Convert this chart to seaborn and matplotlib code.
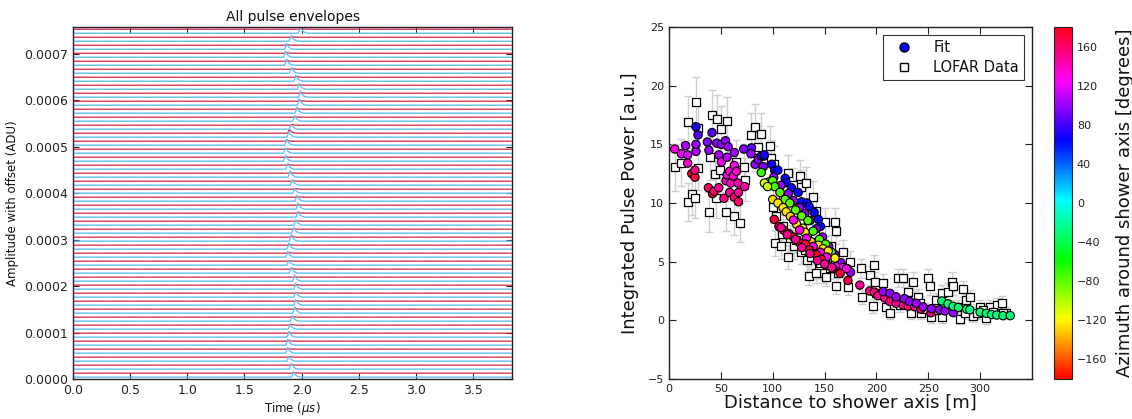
import numpy as np
import pandas as pd
import matplotlib
matplotlib.use("Agg")
import matplotlib.pyplot as plt
import seaborn as sns
from matplotlib.lines import Line2D

# ---------------- left panel: pulse envelopes ----------------
# pulse arrival time of each station (bottom -> top), microseconds
pulse_time = [1.93, 1.91, 1.89, 1.88, 1.88, 1.89, 1.90, 1.92, 1.94, 1.95, 1.95,
              1.95, 1.94, 1.91, 1.89, 1.88, 1.89, 1.91, 1.93, 1.95, 1.97, 1.97,
              1.96, 1.94, 1.92, 1.90, 1.88, 1.86, 1.86, 1.87, 1.89, 1.91, 1.94,
              1.96, 1.98, 1.99, 1.98, 1.95, 1.91, 1.87, 1.86, 1.87, 1.91, 1.99]
# pulse heights (1e-6 ADU)
blue_height = [11, 12, 10, 12, 13, 12, 10, 12, 13, 12, 11, 12, 13, 12, 10, 12,
               13, 14, 13, 12, 12, 13, 12, 10, 12, 13, 12, 13, 12, 13, 12, 10,
               12, 13, 14, 13, 12, 13, 12, 13, 13, 12, 12, 14]
red_height = [1.5, 1, 1.5, 1, 1.5, 1, 2, 1, 1.5, 1, 1, 1.5, 1, 2, 1, 1.5, 1, 1.5,
              1, 1, 1.5, 1, 1, 1.5, 1, 1, 1.5, 1, 1, 1.5, 8, 1.5, 1, 1, 1.5, 1, 1,
              1.5, 1, 1, 1.5, 1, 1, 1.5]
pulse_shape = [0.15, 0.45, 0.85, 1.0, 0.8, 0.6, 0.45, 0.35, 0.27, 0.2, 0.15,
               0.11, 0.08, 0.05, 0.03]
wiggle = [0.3, -0.5, 0.8, -0.2, 0.6, -0.9, 0.1, 0.4, -0.6, 0.9, -0.3, 0.2,
          -0.8, 0.5, 0.0, -0.4, 0.7, -0.7, 0.3, 0.6, -0.1, -0.9, 0.4, 0.2,
          -0.5, 0.8, -0.2, -0.6, 0.9, -0.4, 0.1, 0.5, -0.8, 0.3, 0.6, -0.3,
          -0.7, 0.2, 0.8, -0.5, 0.0, 0.4, -0.9, 0.7, -0.1, -0.4, 0.5, -0.6]
station_step = 0.0000172
first_offset = 0.000004

# ---------------- right panel: LDF ----------------
fit_dist = [5.5, 12, 16, 18, 18, 22, 25, 25, 26, 26, 26, 28,
            37, 38, 38.5, 41.5, 42, 43.5, 46, 48, 48, 50.5, 50.5, 53, 54.5, 55,
            56, 56, 57, 58.5, 58.5, 59.5, 62, 63, 63, 63, 65, 66.5, 67, 67, 72,
            73, 79.5, 79, 83, 86, 89, 91.5, 92, 91,
            99, 102, 105, 112, 113, 118, 124.5, 128, 133, 135, 140, 144, 146,
            101, 108, 115, 120, 126, 131, 136, 142, 148, 154, 160, 166, 172, 175,
            89, 96.5, 100, 102, 107, 112, 116.5, 122, 128, 134, 139, 145, 151, 156.5,
            92, 95,
            100, 105, 110, 113, 117, 123, 129, 131, 137, 144, 148.5, 153.5, 160,
            120, 126, 132.5, 139, 146, 152, 161, 168, 171,
            101.5, 106, 110.5, 115.5, 120, 126, 131.5, 135.5, 142, 147, 153, 158, 165, 172.5,
            108, 114, 122, 128, 136, 143, 150, 157,
            184, 193.5, 198, 201.5, 208, 213, 219, 226, 230.5, 237, 243, 252.5,
            206.5, 213, 219, 227, 232, 238.5, 245, 253, 261, 266, 274,
            263, 269, 274, 279, 287, 290, 300, 306, 311, 316, 322, 329]
fit_power = [14.6, 14.2, 14.9, 14.1, 13.4, 12.5, 12.2, 12.8, 14.4, 15.0, 16.5, 15.8,
             15.2, 11.3, 14.5, 16.0, 10.8, 11.0, 15.1, 14.1, 11.3, 13.5, 15.0, 10.4, 15.3, 11.9,
             13.9, 12.4, 14.8, 12.7, 10.9, 11.7, 12.3, 14.3, 13.2, 10.5, 12.7, 11.7, 10.1, 10.9, 14.6,
             11.4, 14.7, 14.2, 13.3, 13.7, 14.0, 14.0, 14.1, 13.1,
             13.3, 12.75, 12.8, 12.1, 11.75, 11.3, 10.9, 10.1, 10.0, 9.7, 9.2, 8.6, 8.0,
             12.2, 11.5, 10.8, 10.2, 9.6, 9.1, 8.5, 7.8, 7.1, 6.3, 5.6, 4.9, 4.4, 4.1,
             12.6, 11.8, 11.9, 11.4, 10.9, 10.3, 10.0, 9.4, 8.9, 8.5, 7.6, 6.9, 6.5, 5.8,
             11.7, 11.4,
             10.3, 10.0, 9.6, 9.25, 8.85, 8.2, 7.85, 7.5, 6.7, 6.4, 6.1, 5.9, 5.3,
             8.55, 7.7, 7.0, 6.3, 5.8, 5.4, 4.6, 4.5, 4.4,
             8.6, 8.0, 7.7, 7.4, 7.1, 6.6, 6.5, 6.0, 5.6, 5.2, 4.7, 4.4, 4.0, 3.4,
             7.9, 7.3, 6.9, 6.2, 5.7, 5.1, 4.8, 4.5,
             3.0, 2.5, 2.4, 2.1, 1.9, 1.6, 1.45, 1.3, 1.2, 1.15, 0.95, 0.65,
             2.45, 2.3, 2.0, 1.85, 1.6, 1.45, 1.15, 1.0, 0.9, 0.8, 0.65,
             1.65, 1.4, 1.2, 1.1, 0.95, 0.9, 0.7, 0.6, 0.5, 0.45, 0.4, 0.4]
fit_azimuth = [130, 125, 105, 115, 140, 178, 170, 150, 105, 100, 70, 82,
               95, 165, 100, 85, 172, 160, 95, 105, 148, 125, 98, 152, 98, 140,
               108, 130, 100, 132, 150, 138, 135, 102, 125, 155, 140, 145, 160, 150, 95,
               145, 85, 100, 100, 95, 75, 72, 70, 95,
               68, 66, 65, 64, 66, 63, 62, 62, 64, 63, 62, 62, 63,
               98, 100, 96, 100, 102, 98, 100, 100, 102, 100, 98, 100, 102, 100,
               -70, -80, -78, -75, -78, -80, -80, -78, -80, -78, -76, -80, -78, -80,
               -110, -105,
               -128, -125, -122, -125, -128, -125, -122, -125, -128, -125, -122, -125, -120,
               128, 130, 125, 130, 128, 130, 125, 130, 128,
               172, 170, 175, 170, 172, 175, 170, 172, 175, 170, 172, 175, 172, 170,
               150, 152, 148, 150, 152, 150, 148, 150,
               150, 152, 155, 150, 152, 155, 150, 152, 155, 150, 152, 155,
               100, 98, 102, 100, 98, 102, 100, 98, 102, 100, 98,
               -30, -28, -30, -32, -30, -28, -30, -32, -30, -28, -30, -30]

data_dist = [5.5, 12, 18, 18, 22.5, 25.7, 25, 28, 28, 38.6, 40, 41.5, 44, 45.7,
             46.6, 49, 50.5, 54.7, 56, 59, 63, 65, 68, 73, 72, 79, 82.6, 89, 82.6,
             86, 97, 98.7, 101, 100, 102, 108, 109, 115, 115, 119.6, 121, 126,
             127.7, 127.7, 132.5, 133, 134.7, 139, 141.5, 144.7, 150, 149, 151.8,
             159.8, 161.4, 160.8, 167.8, 172.7, 174.3, 156.6, 152.4,
             103.5, 110, 116.4, 122.8, 131, 137.3, 145.3, 155, 163, 142, 126,
             119.6, 110, 140.5,
             185.5, 186.5, 197.4, 193.5, 198.4, 196.8, 206.4, 209.6, 213.5, 221,
             225.7, 230.5, 235.4, 233.8, 240.2, 243.4, 249.8, 251.4, 253, 257.9,
             263.7, 263.7, 269, 273.3, 274, 278.8, 281, 283.6, 286.8, 290, 293,
             299.7, 306, 309.3, 315.8, 320.6, 325.4,
             200, 216, 222.5, 229, 241.8, 246.6, 257.9, 270.7, 285, 296.5, 303,
             312.5, 322]
data_power = [13.05, 13.45, 16.9, 10.1, 10.8, 18.6, 10.4, 16.4, 13.0, 9.2, 13.9,
              17.5, 12.5, 10.4, 17.2, 12.8, 16.3, 9.2, 17.0, 12.0, 8.9, 13.5, 8.3,
              12.0, 13.1, 15.8, 16.5, 15.9, 14.5, 14.8, 14.9, 13.8, 13.3, 9.7, 6.6,
              6.35, 7.4, 12.55, 5.4, 11.55, 6.3, 12.3, 11.4, 5.8, 11.7, 5.15, 3.8,
              10.55, 9.3, 4.45, 8.4, 4.0, 3.7, 8.4, 7.6, 2.95, 5.85, 2.85, 5.0,
              6.3, 4.85,
              8.85, 8.0, 7.0, 6.85, 6.0, 5.4, 4.85, 4.45, 4.0, 4.0, 8.55, 8.85,
              10.3, 7.4,
              4.45, 2.0, 4.7, 3.85, 3.3, 1.2, 3.15, 1.15, 0.6, 3.6, 3.6, 2.45, 3.3,
              0.6, 2.0, 0.6, 3.6, 2.9, 0.3, 1.75, 2.3, 0.3, 2.45, 3.3, 2.9, 1.15,
              0.15, 2.65, 1.75, 2.0, 0.35, 1.15, 0.2, 1.15, 1.3, 1.45, 0.6,
              2.3, 2.0, 1.3, 1.75, 1.45, 0.95, 0.9, 1.15, 0.65, 0.6, 0.9, 0.75, 0.6]
data_err = [2.0, 2.0, 2.2, 1.6, 1.8, 2.1, 1.7, 2.0, 1.9, 1.7, 1.9, 2.1, 1.8,
            1.7, 2.0, 1.9, 2.0, 1.6, 2.0, 1.8, 1.6, 1.9, 1.6, 1.8, 1.9, 1.9,
            1.9, 1.8, 1.8, 1.8, 1.7, 1.6, 1.6, 1.4, 1.1, 1.1, 1.2, 1.5, 1.0, 1.4,
            1.1, 1.4, 1.4, 1.0, 1.4, 1.0, 0.8, 1.3, 1.2, 0.9, 1.2, 0.8, 0.8, 1.2,
            1.1, 0.7, 1.0, 0.7, 0.9, 1.0, 0.9,
            1.2, 1.1, 1.1, 1.1, 1.0, 1.0, 0.9, 0.9, 0.8, 0.8, 1.2, 1.2, 1.3, 1.1,
            0.8, 0.6, 0.9, 0.8, 0.8, 0.6, 0.8, 0.6, 0.5, 0.8, 0.8, 0.7, 0.8, 0.5,
            0.7, 0.5, 0.8, 0.7, 0.5, 0.6, 0.7, 0.5, 0.7, 0.8, 0.7, 0.6, 0.5, 0.7,
            0.6, 0.6, 0.5, 0.6, 0.5, 0.6, 0.6, 0.6, 0.5,
            0.7, 0.6, 0.6, 0.6, 0.6, 0.5, 0.5, 0.6, 0.5, 0.5, 0.5, 0.5, 0.5]

# ---------------- style ----------------
sns.set_style("white")
plt.rcParams.update({
    "xtick.direction": "in", "ytick.direction": "in",
    "xtick.top": True, "ytick.right": True,
    "xtick.bottom": True, "ytick.left": True,
    "axes.edgecolor": "#222222", "axes.linewidth": 1.0,
    "xtick.color": "#222222", "ytick.color": "#222222",
    "text.color": "#111111", "axes.labelcolor": "#111111",
})
plt.rcParams["font.family"] = ["DejaVu Sans"]

fig = plt.figure(figsize=(11.32, 4.19), dpi=100)
W, H = 1132, 419
ax1 = fig.add_axes([73 / W, 1 - 379 / H, (512 - 73) / W, (379 - 27) / H])
ax2 = fig.add_axes([669 / W, 1 - 379 / H, (1032 - 669) / W, (379 - 27) / H])
cax = fig.add_axes([1054 / W, 1 - 379 / H, 18 / W, (379 - 27) / H])

# build the traces
n_samp = 768
t = np.arange(n_samp) * 0.005
noise = np.resize(np.array(wiggle), n_samp) * 0.5e-6
shape = np.array(pulse_shape)
rows = []
for k, pt in enumerate(pulse_time):
    off = first_offset + k * station_step
    i0 = int(round(pt / 0.005)) - 3
    blue = off + np.roll(noise, 7 * k)
    blue[i0:i0 + len(shape)] += shape * blue_height[k] * 1e-6
    red = off + station_step / 2 + np.roll(noise, 13 * k + 5)
    red[i0 + 1:i0 + 1 + len(shape)] += shape * red_height[k] * 1e-6
    rows.append(pd.DataFrame({"t": t, "amp": blue, "trace": k, "pol": "y"}))
    rows.append(pd.DataFrame({"t": t, "amp": red, "trace": k, "pol": "x"}))
traces = pd.DataFrame(pd.concat(rows, ignore_index=True))

sns.lineplot(data=traces[traces.pol == "x"], x="t", y="amp", units="trace",
             estimator=None, color="#d3143b", lw=0.8, ax=ax1, legend=False)
sns.lineplot(data=traces[traces.pol == "y"], x="t", y="amp", units="trace",
             estimator=None, color="#5fbcf5", lw=0.9, ax=ax1, legend=False)

ax1.set_xlim(0, 3.84)
ax1.set_ylim(0, 0.000757)
ax1.set_xticks(np.arange(0, 3.6, 0.5))
ax1.set_yticks(np.arange(0, 0.00071, 0.0001))
ax1.yaxis.set_major_formatter(matplotlib.ticker.FormatStrFormatter("%.4f"))
ax1.tick_params(labelsize=9, length=4)
ax1.set_title("All pulse envelopes", fontsize=10, pad=4)
ax1.set_xlabel(r"Time ($\mu s$)", fontsize=8.5, labelpad=2)
ax1.set_ylabel("Amplitude with offset (ADU)", fontsize=8.5, labelpad=4)

# right panel
norm = matplotlib.colors.Normalize(-180, 180)
ax2.errorbar(data_dist, data_power, yerr=data_err, fmt="none", ecolor="#cfcfcf",
             elinewidth=1.0, capsize=3, capthick=1.0, zorder=1)
sns.scatterplot(x=data_dist, y=data_power, marker="s", color="white",
                edgecolor="black", s=32, linewidth=0.9, ax=ax2, zorder=2)
sns.scatterplot(x=fit_dist, y=fit_power, hue=fit_azimuth, palette="hsv",
                hue_norm=norm, edgecolor="black", s=36, linewidth=0.8,
                ax=ax2, legend=False, zorder=3)
ax2.set_xlim(0, 350)
ax2.set_ylim(-5, 25)
ax2.set_xticks(range(0, 301, 50))
ax2.set_yticks(range(-5, 26, 5))
ax2.tick_params(labelsize=8, length=5)
ax2.set_xlabel("Distance to shower axis [m]", fontsize=13, labelpad=0)
ax2.set_ylabel("Integrated Pulse Power [a.u.]", fontsize=13, labelpad=6)

handles = [Line2D([], [], ls="", marker="o", markerfacecolor="blue",
                  markeredgecolor="black", markersize=6.5),
           Line2D([], [], ls="", marker="s", markerfacecolor="white",
                  markeredgecolor="black", markersize=5.5)]
leg = ax2.legend(handles, ["Fit", "LOFAR Data"], loc="upper right",
                 fontsize=10.5, frameon=True, fancybox=False, edgecolor="black",
                 handletextpad=0.9, borderpad=0.35, labelspacing=0.35,
                 handlelength=2.2, borderaxespad=0,
                 bbox_to_anchor=(0.978, 0.977))
leg.get_frame().set_linewidth(0.8)

sm = matplotlib.cm.ScalarMappable(norm=norm, cmap="hsv")
cb = fig.colorbar(sm, cax=cax, ticks=range(-160, 161, 40))
cb.ax.tick_params(labelsize=8, direction="in", length=4, left=False, right=True)
cb.outline.set_linewidth(0.8)
cb.set_label("Azimuth around shower axis [degrees]", fontsize=13, labelpad=6)

fig.savefig("out.png", dpi=100)
